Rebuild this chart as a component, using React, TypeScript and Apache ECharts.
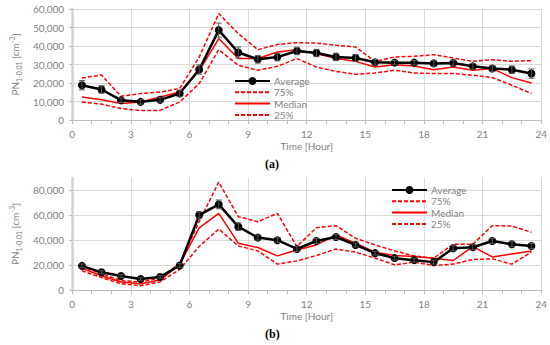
import React, { useEffect, useRef } from "react";
import * as echarts from "echarts";

const hours = [0.5, 1.5, 2.5, 3.5, 4.5, 5.5, 6.5, 7.5, 8.5, 9.5, 10.5, 11.5, 12.5, 13.5, 14.5, 15.5, 16.5, 17.5, 18.5, 19.5, 20.5, 21.5, 22.5, 23.5];
const xTicks = [0, 3, 6, 9, 12, 15, 18, 21, 24];

// Panel (a)
const avgA = [18800, 16500, 10700, 9800, 10900, 14300, 27300, 48600, 36500, 32800, 34000, 37300, 36200, 34100, 33500, 31200, 31000, 31000, 30600, 30800, 29000, 27800, 27200, 25100];
const errA = [2500, 2000, 1200, 1200, 1200, 1500, 2500, 3800, 3000, 2000, 2000, 2000, 2000, 2000, 1800, 1500, 1200, 1200, 1500, 1500, 1500, 1500, 2000, 2500];
const p75A = [22700, 24300, 12800, 14300, 15100, 17000, 34000, 57500, 46700, 38000, 40800, 41800, 41600, 40400, 39500, 31600, 34100, 34400, 35300, 33500, 31700, 32600, 31700, 32100];
const medA = [12400, 11000, 8900, 9700, 12400, 15100, 26500, 44000, 33200, 33200, 36800, 38000, 35900, 33200, 31700, 28600, 29900, 29200, 27200, 28600, 26900, 27800, 22900, 20000];
const p25A = [9700, 8600, 6200, 5100, 5200, 9700, 19700, 38000, 29600, 26900, 29000, 33200, 28600, 26300, 24700, 25400, 26900, 25400, 25100, 25100, 24200, 22900, 18800, 14300];

// Panel (b)
const avgB = [19400, 14200, 11200, 8800, 10500, 19700, 60200, 68800, 50900, 42100, 40000, 33000, 39400, 42600, 36200, 29600, 25600, 24000, 22400, 33600, 34400, 39400, 36800, 35400];
const errB = [1500, 1200, 1000, 1000, 1000, 1500, 2500, 3500, 3000, 2000, 2000, 2000, 2000, 2000, 1500, 1500, 1500, 1500, 1500, 2000, 2000, 2000, 2000, 2000];
const p75B = [19000, 13000, 7500, 6500, 9500, 21500, 55000, 86700, 58900, 54900, 61600, 34900, 50100, 51700, 41600, 36200, 31400, 27400, 25600, 36800, 36800, 51700, 51400, 46400];
const medB = [17500, 11500, 6500, 5000, 8000, 20500, 50000, 61600, 37600, 34100, 27400, 32200, 36200, 44200, 37600, 30400, 27700, 26900, 25600, 23700, 34900, 26600, 29000, 31400];
const p25B = [15500, 10000, 5000, 3500, 6500, 16500, 35000, 49000, 35400, 31400, 20800, 23400, 27700, 33000, 30400, 25600, 20200, 22400, 19700, 20800, 24500, 25000, 20800, 30400];

const seriesNames = ["Average", "75%", "Median", "25%"];
const panelLabels = ["(a)", "(b)"];

const FONT = "Lato, 'Open Sans', sans-serif";
const GRAY = "#7f7f7f";
const RED = "#ff0000";

function zip(xs: number[], ys: number[]) {
  return xs.map((x, i) => [x, ys[i]]);
}

function makeSeries(idx: number, avg: number[], err: number[], p75: number[], med: number[], p25: number[]) {
  const common = { xAxisIndex: idx, yAxisIndex: idx, silent: true };
  return [
    {
      ...common,
      type: "line",
      name: seriesNames[1],
      data: zip(hours, p75),
      symbol: "none",
      lineStyle: { color: RED, width: 1.5, type: [4, 2] },
      itemStyle: { color: RED },
      z: 2,
    },
    {
      ...common,
      type: "line",
      name: seriesNames[2],
      data: zip(hours, med),
      symbol: "none",
      lineStyle: { color: RED, width: 1.5 },
      itemStyle: { color: RED },
      z: 2,
    },
    {
      ...common,
      type: "line",
      name: seriesNames[3],
      data: zip(hours, p25),
      symbol: "none",
      lineStyle: { color: RED, width: 1.5, type: [4, 2] },
      itemStyle: { color: RED },
      z: 2,
    },
    {
      ...common,
      type: "line",
      name: seriesNames[0],
      data: zip(hours, avg),
      symbol: "circle",
      symbolSize: 8,
      lineStyle: { color: "#000", width: 2.5 },
      itemStyle: { color: "#000" },
      z: 3,
    },
    {
      ...common,
      type: "custom",
      name: "err" + idx,
      data: hours.map((h, i) => [h, avg[i] - err[i], avg[i] + err[i]]),
      encode: { x: 0, y: [1, 2] },
      z: 4,
      renderItem: (params: any, api: any) => {
        const x = api.value(0);
        const lo = api.coord([x, api.value(1)]);
        const hi = api.coord([x, api.value(2)]);
        const w = 3;
        const st = { stroke: "#555", lineWidth: 1 };
        return {
          type: "group",
          children: [
            { type: "line", shape: { x1: lo[0], y1: lo[1], x2: hi[0], y2: hi[1] }, style: st },
            { type: "line", shape: { x1: lo[0] - w, y1: lo[1], x2: lo[0] + w, y2: lo[1] }, style: st },
            { type: "line", shape: { x1: hi[0] - w, y1: hi[1], x2: hi[0] + w, y2: hi[1] }, style: st },
          ],
        };
      },
    },
  ];
}

function makeXAxis(idx: number) {
  return {
    gridIndex: idx,
    type: "value",
    min: xTicks[0],
    max: xTicks[xTicks.length - 1],
    interval: 3,
    name: "Time [Hour]",
    nameLocation: "middle",
    nameGap: 21,
    nameTextStyle: { color: GRAY, fontSize: 10, fontFamily: FONT },
    axisLabel: { color: GRAY, fontSize: 10, fontFamily: FONT, margin: 9 },
    axisLine: { show: true, onZero: false, lineStyle: { color: "#bfbfbf", width: 1 } },
    axisTick: { show: true, length: 4, lineStyle: { color: "#bfbfbf" } },
    minorTick: { show: true, splitNumber: 3, length: 4, lineStyle: { color: "#bfbfbf" } },
    splitLine: { show: true, lineStyle: { color: "#d9d9d9", width: 1 } },
  };
}

const yName = "{m|PN}{s|1-0.01}{m| [cm}{p|-3}{m|]}";
const yRich = {
  m: { fontSize: 10, color: GRAY, fontFamily: FONT, lineHeight: 14, verticalAlign: "middle" },
  s: { fontSize: 7, color: GRAY, fontFamily: FONT, lineHeight: 14, verticalAlign: "bottom" },
  p: { fontSize: 7, color: GRAY, fontFamily: FONT, lineHeight: 14, verticalAlign: "top" },
};

function makeYAxis(idx: number, max: number, interval: number) {
  return {
    gridIndex: idx,
    type: "value",
    min: 0,
    max,
    interval,
    name: yName,
    nameLocation: "middle",
    nameRotate: 90,
    nameGap: 44,
    nameTextStyle: { rich: yRich },
    axisLabel: {
      color: GRAY,
      fontSize: 10,
      fontFamily: FONT,
      margin: 8,
      showMaxLabel: max % interval === 0,
      formatter: (v: number) => v.toLocaleString("en-US"),
    },
    axisLine: { show: true, lineStyle: { color: "#d0d0d0", width: 2.5 } },
    axisTick: { show: true, length: 3, lineStyle: { color: "#bfbfbf" } },
    splitLine: { show: true, showMaxLine: max % interval === 0, lineStyle: { color: "#d9d9d9", width: 1 } },
  };
}

function makeLegend(left: number, top: number) {
  return {
    show: true,
    data: seriesNames.map((n, i) =>
      i === 0 ? { name: n } : { name: n, itemStyle: { opacity: 0 } }
    ),
    orient: "vertical",
    left,
    top,
    itemWidth: 35,
    itemHeight: 10,
    itemGap: 1.3,
    selectedMode: false,
    textStyle: { color: GRAY, fontSize: 10, fontFamily: FONT, padding: [0, 0, 0, -1] },
  };
}

export default function App() {
  const ref = useRef<HTMLDivElement>(null);
  useEffect(() => {
    if (!ref.current) return;
    const chart = echarts.init(ref.current, null, { renderer: "svg" });
    chart.setOption({
      animation: false,
      backgroundColor: "#fff",
      grid: [
        { left: 62, right: 8, top: 9, height: 111 },
        { left: 62, right: 8, top: 178, height: 112 },
      ],
      xAxis: [makeXAxis(0), makeXAxis(1)],
      yAxis: [makeYAxis(0, 60000, 10000), makeYAxis(1, 90000, 20000)],
      legend: [makeLegend(229, 71), makeLegend(386, 180)],
      series: [
        ...makeSeries(0, avgA, errA, p75A, medA, p25A),
        ...makeSeries(1, avgB, errB, p75B, medB, p25B),
      ],
      graphic: [
        {
          type: "text",
          left: 265,
          top: 158,
          style: { text: panelLabels[0], font: "bold 12px 'Liberation Serif', serif", fill: "#000" },
        },
        {
          type: "text",
          left: 265,
          top: 328,
          style: { text: panelLabels[1], font: "bold 12px 'Liberation Serif', serif", fill: "#000" },
        },
      ],
    });
    return () => chart.dispose();
  }, []);
  return (
    <div
      ref={ref}
      style={{ position: "absolute", left: 0, top: 0, width: 550, height: 345 }}
    />
  );
}
